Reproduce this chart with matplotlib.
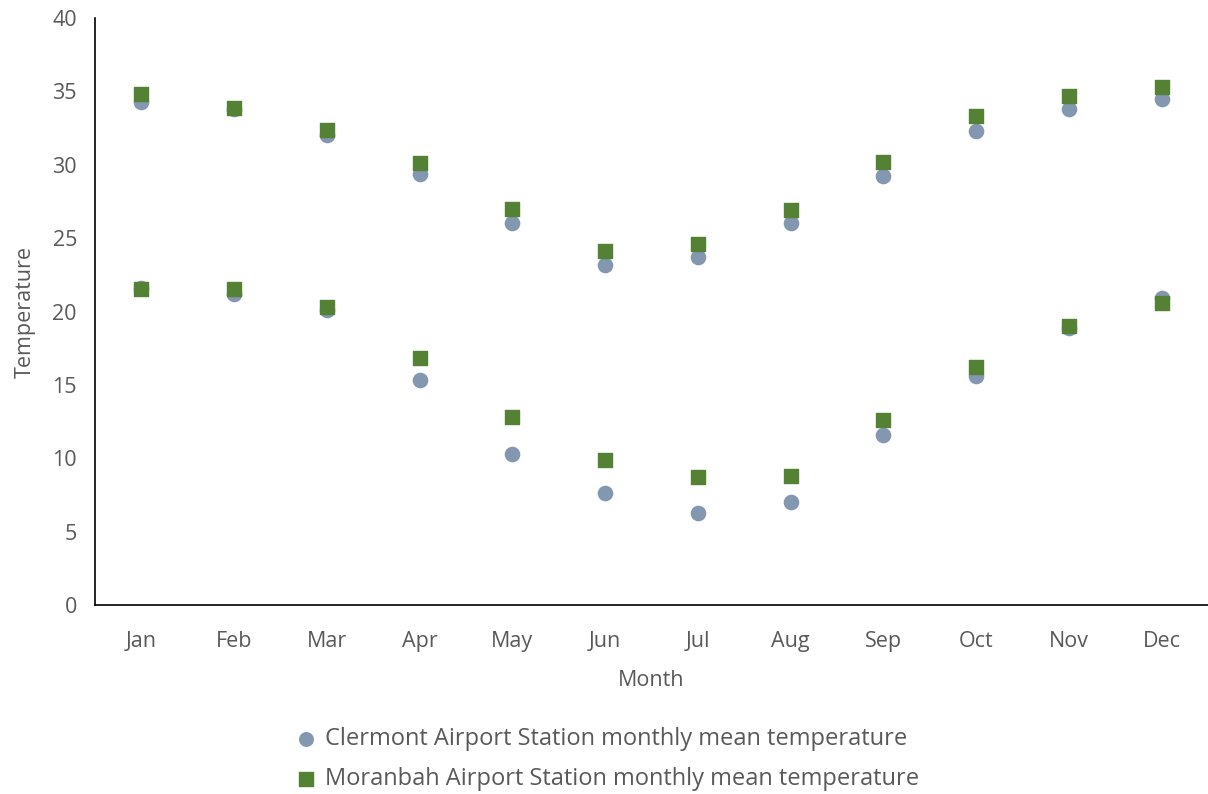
import matplotlib.pyplot as plt

months = ["Jan", "Feb", "Mar", "Apr", "May", "Jun", "Jul", "Aug", "Sep", "Oct", "Nov", "Dec"]
clermont_max = [34.3, 33.8, 32.0, 29.4, 26.0, 23.2, 23.7, 26.0, 29.2, 32.3, 33.8, 34.5]
clermont_min = [21.6, 21.2, 20.1, 15.3, 10.3, 7.6, 6.3, 7.0, 11.6, 15.6, 18.9, 20.9]
moranbah_max = [34.8, 33.9, 32.4, 30.1, 27.0, 24.1, 24.6, 26.9, 30.2, 33.3, 34.7, 35.3]
moranbah_min = [21.5, 21.5, 20.3, 16.8, 12.8, 9.9, 8.7, 8.8, 12.6, 16.2, 19.0, 20.6]

plt.rcParams['font.family'] = ['Open Sans', 'DejaVu Sans']
txt = "#595959"
blue = "#8497B0"
green = "#548235"

fig = plt.figure(figsize=(12.08, 7.94), dpi=100)
ax = fig.add_axes([95 / 1208, 189 / 794, 1 - 95 / 1208, (605 - 18) / 794])

x = list(range(len(months)))
ax.scatter(x, clermont_max, s=105, marker="o", color=blue, zorder=2,
           label="Clermont Airport Station monthly mean temperature")
ax.scatter(x, clermont_min, s=105, marker="o", color=blue, zorder=2)
ax.scatter(x, moranbah_max, s=110, marker="s", color=green, zorder=3,
           label="Moranbah Airport Station monthly mean temperature")
ax.scatter(x, moranbah_min, s=110, marker="s", color=green, zorder=3)

ax.set_xlim(-0.5, 11.5)
ax.set_ylim(0, 40)
ax.set_yticks(range(0, 41, 5))
ax.set_xticks(x)
ax.set_xticklabels(months)
ax.tick_params(axis="both", length=0, labelsize=15.5, colors=txt)
ax.tick_params(axis="x", pad=19)
ax.tick_params(axis="y", pad=13)
for s in ["top", "right"]:
    ax.spines[s].set_visible(False)
ax.spines["left"].set_color("black")
ax.spines["bottom"].set_color("black")
ax.spines["left"].set_linewidth(1.2)
ax.spines["bottom"].set_linewidth(1.2)

ax.set_xlabel("Month", fontsize=15.5, color=txt, labelpad=13)
ax.set_ylabel("Temperature", fontsize=15.5, color=txt, labelpad=12)

leg = fig.legend(loc="center", bbox_to_anchor=(0.497, 0.044), ncol=1, frameon=False,
                 fontsize=17, labelcolor=txt, handletextpad=-0.2, labelspacing=0.7,
                 markerscale=0.95)
fig.savefig("out.png", dpi=100)
